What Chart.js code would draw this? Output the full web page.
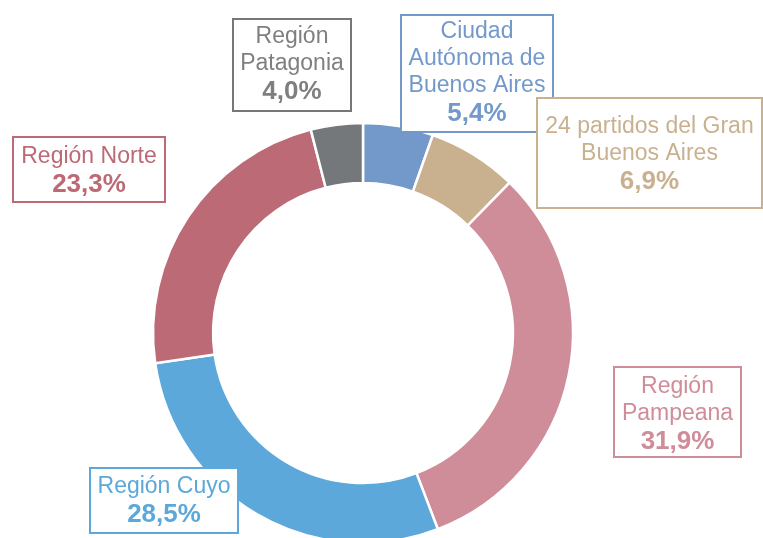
<!DOCTYPE html>
<html>
<head>
<meta charset="utf-8">
<script src="https://cdn.jsdelivr.net/npm/chart.js@4"></script>
<style>
    html, body { margin: 0; padding: 0; background: #fff; overflow: hidden; }
    #wrap { width: 763px; height: 538px; position: relative; }
</style>
</head>
<body>
<div id="wrap"><canvas id="donut"></canvas></div>
<script>
const regions = [
    ['Ciudad', 'Autónoma de', 'Buenos Aires'],
    ['24 partidos del Gran', 'Buenos Aires'],
    ['Región', 'Pampeana'],
    ['Región Cuyo'],
    ['Región Norte'],
    ['Región', 'Patagonia']
];
const shares = [5.4, 6.9, 31.9, 28.5, 23.3, 4.0];
const shareLabels = ['5,4%', '6,9%', '31,9%', '28,5%', '23,3%', '4,0%'];
const sliceColors = ['#7399cb', '#c9b18f', '#cf8c99', '#5ca8da', '#bb6a76', '#75787b'];
const textColors = ['#7399cb', '#c9b18f', '#cf8c99', '#5ca8da', '#bb6a76', '#7f7f7f'];

// label boxes: left, top, right, bottom, and y of the first text line centre
const labelBoxes = [
    { x1: 401, y1: 15, x2: 553, y2: 132, firstLine: 32 },
    { x1: 537, y1: 98, x2: 762, y2: 208, firstLine: 127 },
    { x1: 614, y1: 367, x2: 741, y2: 457, firstLine: 387 },
    { x1: 90, y1: 468, x2: 238, y2: 533, firstLine: 487 },
    { x1: 13, y1: 137, x2: 165, y2: 202, firstLine: 157 },
    { x1: 233, y1: 19, x2: 351, y2: 111, firstLine: 37 }
];

const boxLabels = {
    id: 'boxLabels',
    afterDatasetsDraw(chart) {
        const ctx = chart.ctx;
        ctx.save();
        labelBoxes.forEach((b, i) => {
            ctx.fillStyle = '#fff';
            ctx.fillRect(b.x1, b.y1, b.x2 - b.x1, b.y2 - b.y1);
            ctx.strokeStyle = sliceColors[i];
            ctx.lineWidth = 2;
            ctx.strokeRect(b.x1, b.y1, b.x2 - b.x1, b.y2 - b.y1);

            const cx = (b.x1 + b.x2) / 2;
            ctx.fillStyle = textColors[i];
            ctx.textAlign = 'center';
            ctx.textBaseline = 'middle';
            ctx.font = '23px "Liberation Sans", Arial, sans-serif';
            let y = b.firstLine;
            regions[i].forEach(line => {
                ctx.fillText(line, cx, y);
                y += 27;
            });
            ctx.font = 'bold 26px "Liberation Sans", Arial, sans-serif';
            ctx.fillText(shareLabels[i], cx, y + 1);
        });
        ctx.restore();
    }
};

new Chart(document.getElementById('donut'), {
    type: 'doughnut',
    data: {
        labels: regions.map(r => r.join(' ')),
        datasets: [{
            data: shares,
            backgroundColor: sliceColors,
            borderColor: '#ffffff',
            borderWidth: 2.5,
            clip: false
        }]
    },
    options: {
        responsive: true,
        maintainAspectRatio: false,
        animation: false,
        radius: 210,
        cutout: '71.4%',
        layout: { padding: { left: 153, right: 190, top: 128, bottom: 0 } },
        plugins: {
            legend: { display: false },
            tooltip: { enabled: false }
        }
    },
    plugins: [boxLabels]
});
</script>
</body>
</html>
